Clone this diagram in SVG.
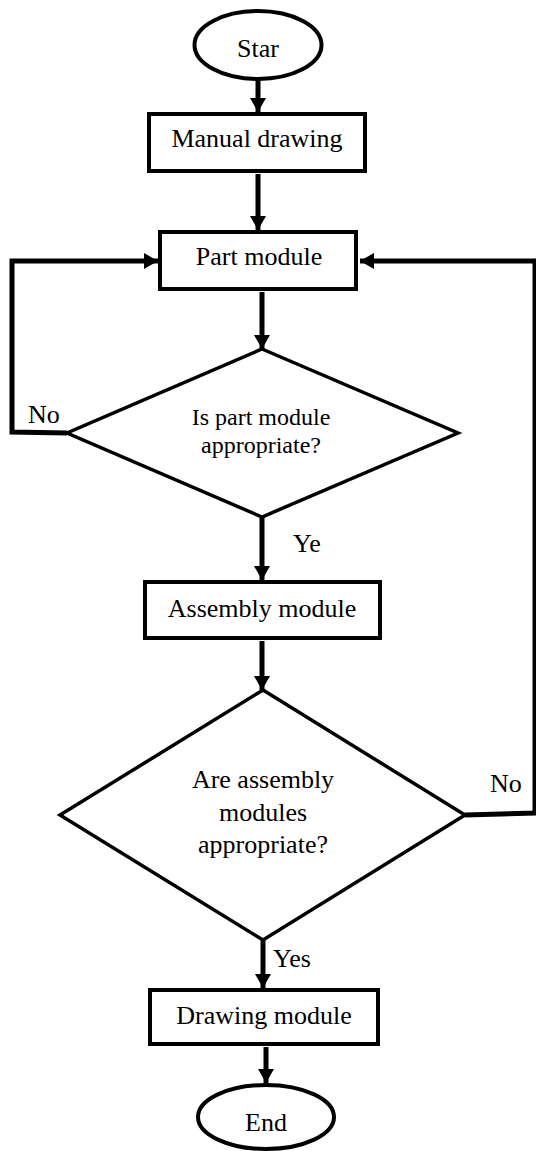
<svg xmlns="http://www.w3.org/2000/svg" width="536" height="1151" viewBox="0 0 536 1151">
<style>
.shape{fill:#fff;stroke:#000;stroke-width:4}
.dia{fill:#fff;stroke:#000;stroke-width:3.5;stroke-linejoin:miter}
.conn{fill:none;stroke:#000;stroke-width:5;stroke-linejoin:miter}
text{font-family:"Liberation Serif","Times New Roman",serif;font-size:26px;fill:#000}
.c{text-anchor:middle}
.s{font-size:24px}
</style>
<defs>
<marker id="ah" markerUnits="userSpaceOnUse" markerWidth="16" markerHeight="18" refX="14" refY="8" orient="auto">
<path d="M0,0 L14,8 L0,16 z" fill="#000"/>
</marker>
</defs>
<rect width="536" height="1151" fill="#fff"/>
<g id="connectors">
<line class="conn" x1="258" y1="80" x2="258" y2="112" marker-end="url(#ah)"/>
<line class="conn" x1="258" y1="174" x2="258" y2="230" marker-end="url(#ah)"/>
<line class="conn" x1="262" y1="292" x2="262" y2="349" marker-end="url(#ah)"/>
<polyline class="conn" points="67,433 12,432 12,261 158,261" marker-end="url(#ah)"/>
<line class="conn" x1="262" y1="517" x2="262" y2="580" marker-end="url(#ah)"/>
<line class="conn" x1="262" y1="641" x2="262" y2="690" marker-end="url(#ah)"/>
<polyline class="conn" points="465,815 535,813 535,261 360,261" marker-end="url(#ah)"/>
<line class="conn" x1="263" y1="940" x2="263" y2="988" marker-end="url(#ah)"/>
<line class="conn" x1="266" y1="1047" x2="266" y2="1083" marker-end="url(#ah)"/>
<text x="28" y="423">No</text>
<text x="293" y="552">Ye</text>
<text x="490" y="792">No</text>
<text x="273" y="967">Yes</text>
</g>
<g id="start">
<ellipse class="shape" cx="258" cy="45" rx="63.5" ry="34"/>
<text class="c" x="258" y="57">Star</text>
</g>
<g id="manual">
<rect class="shape" x="149" y="114" width="216" height="57"/>
<text class="c" x="257" y="147">Manual drawing</text>
</g>
<g id="part">
<rect class="shape" x="160" y="232" width="196" height="57"/>
<text class="c" x="259" y="265">Part module</text>
</g>
<g id="decision1">
<polygon class="dia" points="262,349 458,433 262,517 67,433"/>
<text class="c s" x="261" y="425">Is part module</text>
<text class="c s" x="261" y="453">appropriate?</text>
</g>
<g id="assembly">
<rect class="shape" x="145" y="582" width="235" height="56"/>
<text class="c" x="262" y="617">Assembly module</text>
</g>
<g id="decision2">
<polygon class="dia" points="263,690 465,815 263,940 60,815"/>
<text class="c" x="263" y="788">Are assembly</text>
<text class="c" x="263" y="821">modules</text>
<text class="c" x="263" y="853">appropriate?</text>
</g>
<g id="drawing">
<rect class="shape" x="150" y="990" width="228" height="54"/>
<text class="c" x="264" y="1024">Drawing module</text>
</g>
<g id="end">
<ellipse class="shape" cx="266" cy="1117" rx="68" ry="32"/>
<text class="c" x="266" y="1131">End</text>
</g>
</svg>
